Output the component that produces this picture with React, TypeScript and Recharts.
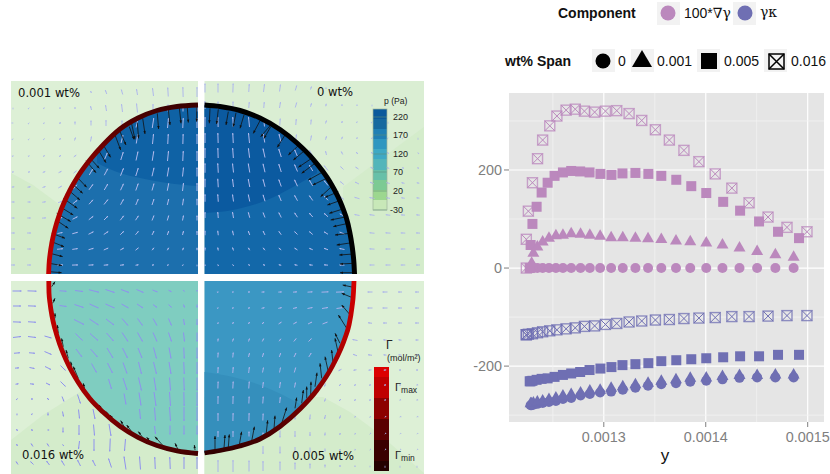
import { Area, CartesianGrid, ComposedChart, Line, ReferenceArea, ReferenceLine, Scatter, ScatterChart, XAxis, YAxis } from "recharts";

// ---- left block: drop flow fields, in diagram units ----

const panelTop = [81, 274];
const panelBottom = [281, 474];
const panelLeft = [11, 198];
const panelRight = [204.5, 424];

const tlRimX = [48.6, 49, 50, 52, 55, 60, 68, 78, 90, 103, 120, 138, 157, 177, 198];
const tlRimY = [274, 265, 254.7, 242, 228.8, 212.8, 194, 176.3, 159.8, 145, 129, 118, 110.5, 106.5, 105];
const trRimX = [204.5, 220, 240, 260, 280, 297, 313, 330, 342, 348, 351, 353, 354, 354.5];
const trRimY = [105, 106.5, 110.5, 118, 129.5, 143, 159, 182, 206, 224, 239, 253, 264, 274];
const blRimX = [48.8, 49, 50, 52, 55, 60, 68, 78, 90, 103, 120, 138, 157, 177, 198];
const blRimY = [281, 293, 303, 316, 329, 345, 364, 382, 398.8, 412, 426.3, 437.3, 445.5, 450.8, 453.5];
const brRimX = [204.5, 220, 240, 260, 280, 300, 317, 333, 345, 349, 352, 353.5, 354];
const brRimY = [453, 450.5, 446, 439, 426.5, 409, 390, 365, 338, 325, 307, 292, 281];

// inner pressure contours
const tlDarkX = [97, 117, 140, 167, 198];
const tlDarkTop = [152, 132, 117, 108, 105];
const tlDarkBottom = [163, 172, 178, 183, 186];
const trDarkX = [204.5, 233, 267, 293, 317];
const trDarkTop = [105, 109, 122, 139, 163];
const trDarkBottom = [213, 210, 200, 187, 173];
const brDarkX = [204.5, 233, 260, 283, 303];
const brDarkTop = [372, 377, 385, 395, 406];
const brDarkBottom = [453, 447, 439, 424, 406];

// outer pressure contours
const tlOuterX = [11, 33, 60];
const tlOuterY = [173, 185, 205];
const trOuterX = [343, 423.9];
const trOuterY = [187, 127];
const blOuterX = [11, 43, 80, 198];
const blOuterY = [440, 415, 392, 392];
const brOuterX = [204.5, 323, 350, 377, 400, 424];
const brOuterY = [397, 397, 412, 432, 452, 473];

// velocity grid, u/v by row
const tlColumns = [13, 29, 44, 60, 75, 91, 106, 122, 137, 153, 168, 183, 197];
const tlRows = [92, 108, 123, 139, 156, 172, 187, 202, 218, 233, 249, 265];
const tlU = [
  [0, 0, 0, 0, 0, -1, -1.5, -1.5, -1, -1, -0.5, -0.3, 0],
  [0, 0.5, 0.5, 0, 0, -1, -1, -1, -1, 0, 0, 0, 0],
  [0.5, 0.5, 0.5, 0.5, 0, 0, 0, 0, 2, 1.5, 1, 0.5, 0],
  [0.5, 0.5, 1, 1, 1, 1, 0, 2, 1.5, 1, 0.5, 0.3, 0],
  [1, 1, 1.5, 2, 2.5, 0, 3, 2.5, 2, 1.5, 1, 0.5, 0],
  [1.5, 2, 2.5, 3, 3, 3.5, 3.5, 3, 2.5, 2, 1.5, 1, 0],
  [2.5, 3, 3, 3.5, 4, 4, 3.5, 3, 2.5, 2, 1.5, 1, 0],
  [3, 3, 3.5, 4, 4.5, 4, 4, 3, 2.5, 2, 1.5, 1, 0],
  [3, 3.5, 4, 4.5, 5, 4.5, 4, 3.5, 3, 2, 1.5, 1, 0],
  [3.5, 4, 0, 5, 5.5, 5, 4.5, 3.5, 3, 2, 1.5, 1, 0],
  [4, 4, 0, 6, 5.5, 5, 4.5, 3.5, 3, 2, 1.5, 1, 0],
  [4, 4, 0, 6, 6, 5, 4.5, 4, 3, 2, 1.5, 1, 0],
];
const tlV = [
  [0, 0, 0, -0.5, -1, -2, -4, -5, -6, -8, -9, -10, -10],
  [-0.5, -0.5, -1, -1.5, -2, -4, -6, -8, -9, -8, -7, -7, -7],
  [0, -0.5, -1, -2, -3, -5, -6, -5, -9, -10, -10, -10, -10],
  [-0.3, -0.5, -1, -2, -3, -5, 0, -8, -9, -10, -10, -10, -10],
  [-0.3, -0.5, -1, -1.5, -2, 0, -7, -8, -9, -9.5, -10, -10, -10],
  [-0.3, -0.5, -1, -1.5, -2.5, -6, -6.5, -7.5, -8, -8.5, -9, -9, -9],
  [-0.3, -0.5, -1, -2, -4.5, -5.5, -6, -6.5, -7, -7, -7.5, -8, -8],
  [0, 0, -0.5, -1.5, -3.5, -4.5, -5, -5.5, -6, -6, -6, -6.5, -6.5],
  [0, 0, -0.3, -1, -2.5, -3.5, -4, -4.5, -4.5, -5, -5, -5, -5],
  [0, 0, 0, -1, -1.5, -2.5, -3, -3.5, -3.5, -4, -4, -4, -4],
  [0, 0, 0, -0.5, -0.8, -1.5, -2, -2, -2.5, -2.5, -2.5, -2.5, -2.5],
  [0, 0, 0, -0.2, -0.2, -0.3, -0.4, -0.5, -0.5, -0.5, -0.6, -0.6, -0.6],
];

const trColumns = [205, 218, 233, 249, 264, 280, 296, 311, 326, 342, 357, 372, 388, 403, 418];
const trRows = [88, 105, 122, 138, 153, 168, 183, 198, 215, 233, 249, 265];
const trU = [
  [0, 0, 0.3, 0.5, 1, 1, 1.5, 1, 0, 0, 0, 0, 0, 0, 0],
  [0, 0, 0, 0.5, 0.5, 1, 1.5, 1, 0.5, 0, 0, 0, 0, 0, 0],
  [0, -0.3, -0.5, -1, -1, 0.5, 0.5, 0.5, 1, 0.5, 0.5, 0.3, 0, 0, 0],
  [0, -0.3, -0.5, -1, -1.5, -2, 1, 1, 1, 1, 0.5, 0.5, 0.3, 0.3, 0],
  [0, -0.3, -0.7, -1.2, -2, -2.5, -3, -3.5, -1, -1.5, -2, -2, -1.5, -1, -0.7],
  [0, -0.5, -1, -1.5, -2, -2.5, -3, -3.5, -4, -3, -3, -3, -2.5, -2, -1.5],
  [0, -0.5, -1, -1.5, -2, -2.5, -3, -3.5, -4, -3.5, -4, -4, -3.5, -3, -2.5],
  [0, -0.5, -1, -1.5, -2, -2.5, -3, -3.5, -4, -4, -5, -5, -4, -3.5, -3],
  [0, -0.5, -1, -1.5, -2, -2.5, -3, -3.5, -4, -4.5, -5, -5, -4.5, -4, -3.5],
  [0, -0.5, -1, -1.5, -2, -2.5, -3, -3.5, -4, -5, 0, -5, -5, -4.5, -4],
  [0, -0.5, -1, -1.5, -2, -2.5, -3, -3.5, -4, -5, 0, -5, -5, -4.5, -4],
  [0, -0.5, -1, -1.5, -2, -2.5, -3, -3.5, -4, -5, 0, -5, -5, -4.5, -4],
];
const trV = [
  [-9, -9, -9, -8, -8, -7, -5, -3, -1, 0, 0, 0, 0, 0, 0],
  [-8, -7, -7, -6, -6, -6, -5, -3.5, -2.5, -1.5, -1, -0.5, 0, 0, 0],
  [-10, -10, -10, -10, -9, -7, -6, -5, -3, -2, -1, -0.5, -0.3, 0, 0],
  [-10, -10, -10, -10, -9, -8, -7, -5, -3.5, -2.5, -1.5, -1, -0.5, -0.3, -0.3],
  [-10, -10, -10, -9.5, -9, -8, -7, -6, -4, -3, -2, -1.5, -1, -0.7, -0.5],
  [-9.5, -9.5, -9, -9, -8.5, -8, -7, -6, -5, -3, -2, -1.5, -1, -0.7, -0.5],
  [-8.5, -8.5, -8, -8, -7.5, -7, -6.5, -6, -5, -3, -2, -1.5, -1, -0.7, -0.5],
  [-7.5, -7.5, -7, -7, -6.5, -6, -5.5, -5, -4.5, -3, -1.5, -1, -0.7, -0.5, -0.3],
  [-6, -6, -6, -5.5, -5, -5, -4.5, -4, -3.5, -2.5, -1, -0.7, -0.5, -0.3, -0.3],
  [-4.5, -4.5, -4.5, -4, -4, -3.5, -3, -3, -2.5, -2, 0, -0.5, -0.3, -0.2, -0.2],
  [-3, -3, -3, -2.5, -2.5, -2, -2, -1.5, -1.5, -1, 0, -0.3, 0, 0, 0],
  [-1, -1, -1, -0.8, -0.8, -0.6, -0.6, -0.4, -0.3, -0.2, 0, 0, 0, 0, 0],
];

const blColumns = [17, 32, 48, 63, 79, 94, 110, 125, 140, 155, 170, 184, 197];
const blRows = [291, 306, 322, 337, 353, 368, 384, 399, 414, 430, 445, 463];
const blU = [
  [9, 9, 0, 7, 8, 10, 9, 8, 7, 5, 3, 1, 0],
  [8, 8, 0, 7, 9, 9, 9, 7, 6, 4, 3, 1, 0],
  [8, 8, 0, 0, 10, 9, 8, 6, 5, 4, 3, 1, 0],
  [8, 8, 7, 0, 7, 8, 7, 6, 5, 4, 3, 1, 0],
  [6, 6, 7, 0, 6, 7, 6, 5, 4, 3, 2, 0.5, 0],
  [4, 5, 6, 5, 0, 5, 5, 4, 3, 3, 2, 0.5, 0],
  [3, 4, 4, 5, 0, 0, 3, 4, 3, 2, 1, 0.5, 0],
  [1, 2, 2, 2, 3, 0, 0, 2, 2, 2, 1, 0.3, 0],
  [0, 0.5, 0, 1, 1, 2, 0, 0, 1, 1, 1, 0, 0],
  [-1, -0.5, -1, 0, 0, 1, 2, 0, 0, 1, 0, 0, 0],
  [-1, -2, -2, -1, -1, 0, -0.5, -1, 0, 0, 0, 0, 0],
  [-2, -3, -3, -3, -3, -3, -3, -2, -1, -0.5, -0.5, 0, 0],
];
const blV = [
  [0, 0.3, 0, 0.5, 1, 2.5, 3, 3, 3, 2, 1.5, 1, 1],
  [0, 0.3, 0, 1, 3, 4, 4, 4, 4, 3, 3, 3, 3],
  [0.3, 0.5, 0, 0, 5, 6, 6, 7, 7, 7, 7, 6, 6],
  [-1, 1, 2, 0, 7, 7, 8, 9, 9, 9, 9, 9, 9],
  [-0.5, 0.5, 3, 0, 8, 8, 10, 10, 10, 11, 11, 11, 11],
  [-0.3, 1, 3, 5, 0, 9, 10, 11, 12, 12, 12, 12, 12],
  [-0.5, 0.5, 2, 5, 0, 0, 10, 12, 13, 13, 13, 13, 13],
  [-1, 0, 2, 5, 9, 0, 0, 11, 13, 14, 14, 14, 14],
  [-0.8, -1, 3, 5, 9, 10, 0, 0, 10, 13, 14, 14, 14],
  [-2, -2, 0, 5, 10, 11, 12, 0, 0, 8, 9, 9, 9],
  [-2, -3, -3, -1, 8, 12, 13, 12, 0, 0, 0, 0, 0],
  [-3, -3, -4, -5, -6, -6, -9, -13, -13, -12, -12, -12, -12],
];

const brColumns = [218, 233, 249, 263, 280, 295, 310, 325, 340, 355, 370, 385, 400, 417];
const brRows = [292, 308, 323, 340, 355, 370, 385, 400, 417, 434, 450, 466];
const brU = [
  [1, 1.5, 2, 3, 3.5, 4, 5, 7, 8, 0, -5, -5, -4, -4],
  [1, 1.5, 2, 3, 3.5, 4, 5, 6, 7, 0, -5, -5, -4, -4],
  [0.5, 1, 1.5, 2, 3, 3.5, 4, 5, 0, 0, -4, -4, -4, -4],
  [0.3, 1, 1, 1.5, 2, 2.5, 3, 0, 0, -5, -4, -3.5, -3, -3],
  [0.3, 0.5, 1, 1.2, 1.5, 2, 2.5, 0, 0, -4, -4, -3, -3, -2.5],
  [0.3, 0.5, 0.7, 1, 1, 1.5, 0, 0, -3, -3, -3, -2.5, -2, -2],
  [0.2, 0.4, 0.5, 0.7, 0.8, 1, 0, -1, -2, -2, -2, -2, -1.5, -1],
  [0.1, 0.2, 0.3, 0.5, 0.6, 0, -0.5, -1, -2, -2, -2, -1.5, -1, -1],
  [0, 0.2, 0.2, 0.3, 0, 0, -0.5, -1, -1, -0.5, -1, -0.5, -0.5, -0.5],
  [0, 0, 0, 0, 0, 0, 0, -0.3, -0.5, -0.5, -0.5, -0.3, -0.3, -0.3],
  [0, 0, 0, 0, 0, 0, 0, 0, -0.3, -0.3, -0.3, -0.2, -0.2, -0.2],
  [0, 0, 0, 0, 0, 0, 0, 0, 0, 0, 0, 0, 0, 0],
];
const brV = [
  [-0.2, -0.2, -0.2, -0.2, -0.2, -0.3, -0.3, -0.3, -0.3, 0, 0, 0, 0, 0],
  [-0.4, -0.5, -0.6, -0.7, -0.8, -0.9, -1, -1, -1, 0, 0, 0, 0, 0],
  [-1.5, -2, -2, -2, -2, -2, -2, -2, 0, 0, -0.5, 0, 0, 0],
  [-3, -3, -3, -3, -2.5, -3, -3, 0, 0, -1, -0.5, -0.3, -0.3, 0],
  [-5, -5, -4, -4, -4, -4, -4, 0, 0, -1.5, -0.5, -0.3, -0.3, 0],
  [-6, -6, -6, -5, -5, -5, 0, 0, 1.5, 0.5, 0.3, 0.3, 0.2, 0],
  [-7, -7, -7, -6, -6, -5, 0, 3, 2, 1, 0.5, 0.3, 0.3, 0.2],
  [-8, -8, -7, -7, -6, 0, 4, 3, 2, 1, 0.3, 0.3, 0.3, 0.2],
  [-8, -8, -8, -7, 0, 5, 5, 4, 3, 1, 0.5, 0.3, 0.2, 0.2],
  [-6, -6, -5, -3, 7, 6, 4, 3, 2, 1, 0.5, 0.3, 0.2, 0.2],
  [0, 0, 0, 8, 7, 6, 5, 3, 2, 1, 0.5, 0.3, 0.2, 0.2],
  [-12, -12, -11, -10, -9, -7, -5, -3, -2, -1, -0.5, -0.3, -0.3, -0.3],
];

// surface normals along each rim: tail x, tail y, u, v
const tlNormals = [
  [196.7, 105, 0, 16.7], [187.3, 107.3, 1, 15.3], [179.3, 107.3, 1.7, 16], [168.3, 109.3, 1.7, 15.7],
  [157.3, 113.3, 1.3, 15.7], [142.7, 118.3, 2.3, 15.7], [137.3, 122.7, 1.3, 15.7], [131.7, 124, 3.3, 15.3],
  [129.3, 126.7, 4.7, 12.7], [120, 131.7, 6, 13.3], [115, 135, 5.7, 15], [103.3, 145, 7.3, 12.3],
  [98.3, 150, 7.7, 12.7], [89.3, 157.3, 10, 11], [86, 160.7, 10, 12], [76, 176, 10.7, 11.3],
  [71.7, 183.3, 11, 10], [68.3, 190, 11.7, 10], [63.3, 198.3, 14, 10], [60, 206.7, 13.3, 8.3],
  [56.7, 213.3, 14, 8.3], [56, 220, 12.3, 8.3], [51.7, 233.3, 13.3, 5], [51.7, 241.7, 12.3, 5],
  [50, 253.3, 12.7, 3.3], [49.3, 263.3, 12.7, 2.3], [49.3, 271.7, 12.3, 1],
];
const trNormals = [
  [210, 108.3, -0.7, 15], [218.3, 109.3, -1.7, 14.7], [228.3, 111.7, -2.3, 13.3], [236, 112.7, -2.7, 14],
  [244, 115, -4, 13.3], [260, 120.7, -6.7, 12.7], [270.7, 125, -10, 11.7], [270.7, 126.7, -6.7, 11.7],
  [285, 135, -7.7, 12.3], [299, 145, -10.7, 10], [303.3, 151.7, -10, 8.3], [311.7, 158.3, -13.3, 9],
  [315, 163.3, -13.3, 10], [323.3, 171.7, -15, 8.3], [326.7, 178.3, -14, 6.7], [333.3, 185, -12.7, 11.7],
  [338.3, 191.7, -13.3, 5.7], [341.7, 200, -14.3, 5], [345, 208.3, -15.7, 5], [346.7, 216.7, -16, 3.3],
  [348.3, 223.3, -15, 3.3], [350, 233.3, -15, 1.7], [351.7, 242.7, -15, 2.3], [353.3, 254, -14, 1],
  [354, 263.3, -14, 0.7], [354, 272.7, -14, 0],
];
const blNormals = [
  [195, 450, -0.7, -5], [178.3, 450, -3.3, -6.7], [163.3, 446, -8.3, -9.3], [151.7, 443.3, -5, -6],
  [143.3, 438.3, -5, -6.7], [131.7, 431.7, -5, -6.7], [125, 428.3, -4.3, -7.7], [115, 421.7, -5, -6.7],
  [110, 418.3, -4, -6.7], [103.3, 413.3, -4, -8.3], [96.7, 407.7, -5, -7.7], [92.7, 401.7, -2.7, -5],
  [86, 395, -2.7, -11.7], [78.3, 378.3, -5, -11.7], [71.7, 366.7, -1, -5], [68.3, 358.3, -2.3, -8.3],
  [63.3, 346.7, -1.7, -8.3], [58.3, 333.3, -1, -8.3], [55, 318.3, 0, -5], [52.7, 303.3, 2.3, -5],
  [51.7, 286.7, 3.3, -5],
];
const brNormals = [
  [215, 449, 0, -13], [224, 448.3, 1, -13.3], [228.3, 447.7, 1, -13.3], [239.3, 445, 2.3, -13.3],
  [251.7, 441, 2.7, -14.3], [266, 435, 1.7, -14.7], [274, 429, 1, -13.3], [281.7, 423.3, 5, -15.7],
  [295, 408.3, 1.7, -10.7], [301.7, 403.3, 1.7, -13.3], [306.7, 398.3, 0, -11.7], [310.7, 395, 0.3, -13.3],
  [315, 386.7, 2, -14], [321.7, 378.3, -1.7, -15], [328.3, 371.7, -3.3, -15], [333.3, 365, -1.7, -15],
  [338.3, 353.3, -3.3, -15], [340, 343.3, -5, -10], [346.7, 328.3, -8.3, -13.3], [351.7, 316.7, -10, -11.7],
  [354, 298.3, -12.3, -5], [355, 287.7, -12.3, -2.7],
];

// colour bars
const pressureEdges = [109, 119, 129, 139, 149, 159, 170, 180, 190, 200, 210];
const pressureColors = ["#0a5a9c", "#16699f", "#2080b4", "#2f97c0", "#3fa9c4", "#52b5ba", "#66c0a8", "#7cca94", "#9cd78f", "#c8e8b8"];
const pressureLabels = ["220", "170", "120", "70", "20", "-30"];
const pressureLabelY = [117, 135, 154, 172, 191, 210];
const gammaEdges = [367, 377, 398, 419, 440, 461, 471];
const gammaColors = ["#dc0000", "#bf0000", "#8c0000", "#5a0000", "#3a0000", "#240000"];

// ---- right block: force components along the interface ----

const xsCrossed = [0.001224, 0.001224, 0.001226, 0.00123, 0.001235, 0.00124, 0.001247, 0.001254, 0.001263, 0.001272, 0.001281, 0.001291, 0.0013016, 0.0013127, 0.0013248, 0.0013372, 0.0013506, 0.0013643, 0.0013786, 0.0013933, 0.0014093, 0.0014256, 0.0014425, 0.0014611, 0.0014797, 0.0014993];
const gradCrossed = [0, 58.6, 116, 174, 223, 261, 290, 310, 322, 324, 320, 318, 320, 321, 315, 301, 282, 261, 240, 217, 192, 163, 133, 104, 83, 74];
const curvCrossed = [-136, -136, -135, -134, -132, -130, -128, -126, -124, -122, -119, -118, -115, -113, -110, -108, -106, -105, -103, -102, -101, -99, -99, -98, -97, -97];

const xsSquare = [0.0012273, 0.0012282, 0.001230, 0.0012341, 0.001239, 0.0012449, 0.0012517, 0.0012599, 0.001268, 0.0012768, 0.001286, 0.0012967, 0.0013075, 0.0013183, 0.001331, 0.0013437, 0.0013564, 0.0013711, 0.0013858, 0.0014005, 0.0014171, 0.0014337, 0.0014523, 0.0014709, 0.0014915];
const gradSquare = [0, 47, 90, 125, 154, 174, 188, 195, 198, 197, 195, 192, 190, 193, 194, 192, 188, 180, 167, 153, 135, 117, 95, 74, 61];
const curvSquare = [-231, -231, -230, -228, -226, -225, -222, -218, -215, -212, -208, -205, -202, -198, -196, -194, -190, -188, -186, -184, -182, -180, -180, -177, -177];

const xsPlain = [0.0012282, 0.0012292, 0.0012309, 0.0012348, 0.00124, 0.0012462, 0.001253, 0.0012599, 0.001268, 0.0012772, 0.0012863, 0.0012964, 0.0013072, 0.0013186, 0.001331, 0.0013434, 0.0013564, 0.0013708, 0.0013848, 0.0014005, 0.0014164, 0.0014331, 0.0014504, 0.0014683, 0.0014862];
const gradTriangle = [0, 11, 31, 44, 54, 62, 67, 68, 71, 70, 68, 66, 63, 63, 62, 61, 59, 56, 54.5, 52, 48, 42, 35, 28, 23];
const curvTriangle = [-276, -276, -274, -272, -270, -267, -264, -260, -257, -254, -250, -248, -244, -241, -237, -234, -230, -227, -224, -223, -220, -218, -218, -217, -217];
const gradCircle = [0, 0, 0, 0, 0, 0, 0, 0, 0, 0, 0, 0, 0, 0, 0, 0, 0, 0, 0, 0, 0, 0, 0, 0, 0];
const curvCircle = [-280, -280, -279, -277, -275, -273, -271, -267, -265, -260, -257, -254, -252, -248, -244, -240, -237, -235, -232, -230, -227, -224, -223, -223, -223];

const yMajor = [-200, 0, 200];
const yMinor = [-300, -100, 100, 300];
const xMajor = [0.0013, 0.0014, 0.0015];
const xMinor = [0.00125, 0.00135, 0.00145];

const PURPLE = "#bb88bd";
const BLUE = "#6f6fb3";
const SANS = "'Liberation Sans', Arial, sans-serif";
const DEJAVU = "'DejaVu Sans', sans-serif";
const LIGHT_BG = "#ddf0d6";
const DARK_BG = "#d4eccb";

const pairs = (xs: number[], ys: number[]) => xs.map((x, i) => ({ x, y: ys[i] }));
const bands = (xs: number[], lo: number[], hi: number[]) => xs.map((x, i) => ({ x, band: [lo[i], hi[i]] }));
const constant = (xs: number[], v: number) => xs.map(() => v);
const field = (cols: number[], rows: number[], u: number[][], v: number[][]) =>
  rows.flatMap((y, j) => cols.map((x, i) => ({ x, y, u: u[j][i], v: v[j][i] }))).filter((d) => d.u !== 0 || d.v !== 0);
const normals = (list: number[][]) => list.map(([x, y, u, v]) => ({ x, y, u, v }));

function FlowArrow(props: any) {
  const { cx, cy, payload } = props;
  const { u, v } = payload;
  const len = Math.hypot(u, v);
  const ux = u / len;
  const uy = v / len;
  const x0 = cx - u / 2;
  const y0 = cy - v / 2;
  const x1 = cx + u / 2;
  const y1 = cy + v / 2;
  return (
    <g>
      <line x1={x0} y1={y0} x2={x1} y2={y1} stroke={props.fill} strokeWidth={1} />
      <polygon points={`${x1},${y1} ${x1 - ux * 1.6 - uy * 0.7},${y1 - uy * 1.6 + ux * 0.7} ${x1 - ux * 1.6 + uy * 0.7},${y1 - uy * 1.6 - ux * 0.7}`} fill={props.fill} />
    </g>
  );
}

function NormalArrow(props: any) {
  const { cx, cy, payload } = props;
  const { u, v } = payload;
  const len = Math.hypot(u, v);
  const ux = u / len;
  const uy = v / len;
  const x1 = cx + u;
  const y1 = cy + v;
  return (
    <g>
      <line x1={cx} y1={cy} x2={x1} y2={y1} stroke="#111" strokeWidth={0.8} />
      <polygon points={`${x1},${y1} ${x1 - ux * 3 - uy * 1.2},${y1 - uy * 3 + ux * 1.2} ${x1 - ux * 3 + uy * 1.2},${y1 - uy * 3 - ux * 1.2}`} fill="#111" />
    </g>
  );
}

function rimGradient(id: string, y1: number, y2: number, stops: string[]) {
  return (
    <linearGradient id={id} gradientUnits="userSpaceOnUse" x1={0} x2={0} y1={y1} y2={y2}>
      {stops.map((c, i) => (
        <stop key={c + i} offset={i / (stops.length - 1)} stopColor={c} />
      ))}
    </linearGradient>
  );
}

const areaProps = { stroke: "none", fillOpacity: 1, dot: false, activeDot: false, isAnimationActive: false };
const rimProps = { dataKey: "y", type: "monotoneX" as const, dot: false, activeDot: false, isAnimationActive: false };

function DropPanels() {
  return (
    <ComposedChart width={430} height={474} margin={{ top: 0, right: 0, bottom: 0, left: 0 }} style={{ position: "absolute", left: 0, top: 0 }}>
      <XAxis dataKey="x" type="number" domain={[0, 430]} hide />
      <YAxis dataKey="y" type="number" domain={[0, 474]} reversed hide />
      <defs>
        {rimGradient("rimTL", 105, 274, ["#3a0000", "#800000", "#b00000", "#c40000"])}
        {rimGradient("rimBL", 281, 454, ["#c40000", "#b80000", "#a00000", "#420000"])}
        {rimGradient("rimBR", 281, 454, ["#d40000", "#b80000", "#800000", "#300000"])}
      </defs>

      <Area {...areaProps} data={bands(panelLeft, constant(panelLeft, panelTop[0]), constant(panelLeft, panelTop[1]))} dataKey="band" fill={LIGHT_BG} />
      <Area {...areaProps} data={bands(panelRight, constant(panelRight, panelTop[0]), constant(panelRight, panelTop[1]))} dataKey="band" fill="#daeed3" />
      <Area {...areaProps} data={bands(panelLeft, constant(panelLeft, panelBottom[0]), constant(panelLeft, panelBottom[1]))} dataKey="band" fill={LIGHT_BG} />
      <Area {...areaProps} data={bands(panelRight, constant(panelRight, panelBottom[0]), constant(panelRight, panelBottom[1]))} dataKey="band" fill={LIGHT_BG} />

      <Area {...areaProps} data={bands(tlOuterX, tlOuterY, constant(tlOuterX, panelTop[1]))} dataKey="band" fill={DARK_BG} />
      <Area {...areaProps} data={bands(trOuterX, trOuterY, constant(trOuterX, panelTop[1]))} dataKey="band" fill={DARK_BG} />
      <Area {...areaProps} data={bands(blOuterX, blOuterY, constant(blOuterX, panelBottom[1]))} dataKey="band" fill={DARK_BG} />
      <Area {...areaProps} data={bands(brOuterX, brOuterY, constant(brOuterX, panelBottom[1]))} dataKey="band" fill={DARK_BG} />

      <Area {...areaProps} type="monotoneX" data={bands(tlRimX, tlRimY, constant(tlRimX, panelTop[1]))} dataKey="band" fill="#1c6fad" />
      <Area {...areaProps} type="monotoneX" data={bands(trRimX, trRimY, constant(trRimX, panelTop[1]))} dataKey="band" fill="#1368a9" />
      <Area {...areaProps} type="monotoneX" data={bands(blRimX, constant(blRimX, panelBottom[0]), blRimY)} dataKey="band" fill="#7fcdc0" />
      <Area {...areaProps} type="monotoneX" data={bands(brRimX, constant(brRimX, panelBottom[0]), brRimY)} dataKey="band" fill="#3b97c3" />

      <Area {...areaProps} type="monotoneX" data={bands(tlDarkX, tlDarkTop, tlDarkBottom)} dataKey="band" fill="#0f62a5" />
      <Area {...areaProps} type="monotoneX" data={bands(trDarkX, trDarkTop, trDarkBottom)} dataKey="band" fill="#0b5aa0" />
      <Area {...areaProps} type="monotoneX" data={bands(brDarkX, brDarkTop, brDarkBottom)} dataKey="band" fill="#358fbc" />

      <Scatter data={field(tlColumns, tlRows, tlU, tlV)} fill="#b0b9ec" shape={FlowArrow} isAnimationActive={false} />
      <Scatter data={field(trColumns, trRows, trU, trV)} fill="#b0b9ec" shape={FlowArrow} isAnimationActive={false} />
      <Scatter data={field(blColumns, blRows, blU, blV)} fill="#8f92ee" shape={FlowArrow} isAnimationActive={false} />
      <Scatter data={field(brColumns, brRows, brU, brV)} fill="#aab2ea" shape={FlowArrow} isAnimationActive={false} />

      <Scatter data={normals(tlNormals)} shape={NormalArrow} isAnimationActive={false} />
      <Scatter data={normals(trNormals)} shape={NormalArrow} isAnimationActive={false} />
      <Scatter data={normals(blNormals)} shape={NormalArrow} isAnimationActive={false} />
      <Scatter data={normals(brNormals)} shape={NormalArrow} isAnimationActive={false} />

      <Line {...rimProps} data={pairs(tlRimX, tlRimY)} stroke="url(#rimTL)" strokeWidth={4.8} zIndex={700} />
      <Line {...rimProps} data={pairs(trRimX, trRimY)} stroke="#000" strokeWidth={5} zIndex={700} />
      <Line {...rimProps} data={pairs(blRimX, blRimY)} stroke="url(#rimBL)" strokeWidth={4.8} zIndex={700} />
      <Line {...rimProps} data={pairs(brRimX, brRimY)} stroke="url(#rimBR)" strokeWidth={4.8} zIndex={700} />

      {pressureColors.map((c, i) => (
        <ReferenceArea key={c} x1={373} x2={387} y1={pressureEdges[i]} y2={pressureEdges[i + 1]} fill={c} fillOpacity={1} stroke="none" />
      ))}
      {gammaColors.map((c, i) => (
        <ReferenceArea key={c} x1={374} x2={389} y1={gammaEdges[i]} y2={gammaEdges[i + 1]} fill={c} fillOpacity={1} stroke="none" />
      ))}
    </ComposedChart>
  );
}

// annotation text sits above the chart's layers
function PanelLabels() {
  return (
    <svg width={430} height={474} style={{ position: "absolute", left: 0, top: 0, pointerEvents: "none" }}>
      <g fontFamily={DEJAVU} fontSize={11.6} fill="#111">
        <text x={18} y={97}>0.001 wt%</text>
        <text x={317} y={96}>0 wt%</text>
        <text x={22} y={459}>0.016 wt%</text>
        <text x={292} y={460}>0.005 wt%</text>
      </g>
      <g fontFamily={SANS} fill="#222">
        <text x={384} y={104} fontSize={8.6}>p (Pa)</text>
        {pressureLabels.map((t, i) => (
          <g key={t}>
            <line x1={373} x2={387} y1={pressureLabelY[i]} y2={pressureLabelY[i]} stroke="#5d8f7a" strokeWidth={0.6} />
            <text x={t === "-30" ? 390 : 393} y={pressureLabelY[i] + 3} fontSize={9}>{t}</text>
          </g>
        ))}
        <rect x={373} y={109} width={14} height={101} fill="none" stroke="#9fb59a" strokeWidth={0.7} />
        <text x={386} y={349} fontSize={12}>Γ</text>
        <text x={387} y={361} fontSize={9}>(mol/m²)</text>
        <text x={395} y={391} fontSize={11}>Γ<tspan fontSize={8.5} dy={2}>max</tspan></text>
        <text x={395} y={459} fontSize={11}>Γ<tspan fontSize={8.5} dy={2}>min</tspan></text>
      </g>
    </svg>
  );
}

function Dot(props: any) {
  return <circle cx={props.cx} cy={props.cy} r={5} fill={props.fill} />;
}
function Tri(props: any) {
  const { cx, cy, fill } = props;
  return <polygon points={`${cx},${cy - 6.5} ${cx + 6},${cy + 4} ${cx - 6},${cy + 4}`} fill={fill} />;
}
function Sq(props: any) {
  return <rect x={props.cx - 5} y={props.cy - 5} width={10} height={10} fill={props.fill} />;
}
function CrossSq(props: any) {
  const { cx, cy, fill } = props;
  return (
    <g stroke={fill} fill="none" strokeWidth={1}>
      <rect x={cx - 5} y={cy - 5} width={10} height={10} strokeWidth={1.4} strokeOpacity={0.75} />
      <path d={`M${cx - 5},${cy - 5}L${cx + 5},${cy + 5}M${cx - 5},${cy + 5}L${cx + 5},${cy - 5}`} />
    </g>
  );
}

function LegendKey(props: { x: number; y: number }) {
  return <rect x={props.x} y={props.y} width={23} height={23} fill="#f2f2f2" />;
}

function ForceChart() {
  const offset = 430;
  return (
    <ScatterChart width={400} height={474} margin={{ top: 93, right: 6, bottom: 22, left: 78 }} style={{ position: "absolute", left: offset, top: 0, fontFamily: SANS }}>
      <CartesianGrid fill="#e5e5e5" stroke="#fff" strokeWidth={1.2} horizontalValues={yMajor} verticalValues={xMajor} />
      {yMinor.map((v) => (
        <ReferenceLine key={v} y={v} stroke="#f2f2f2" strokeWidth={0.8} />
      ))}
      {xMinor.map((v) => (
        <ReferenceLine key={v} x={v} stroke="#f2f2f2" strokeWidth={0.8} />
      ))}
      <XAxis
        dataKey="x"
        type="number"
        domain={[0.001207, 0.001516]}
        allowDataOverflow
        ticks={xMajor}
        tickFormatter={(v: number) => v.toFixed(4)}
        tick={{ fill: "#7f7f7f", fontSize: 14.4 }}
        tickSize={5}
        tickMargin={5}
        tickLine={{ stroke: "#7f7f7f" }}
        axisLine={false}
        height={30}
      />
      <YAxis
        dataKey="y"
        type="number"
        domain={[-314, 357]}
        allowDataOverflow
        ticks={yMajor}
        tick={{ fill: "#7f7f7f", fontSize: 14.4 }}
        tickSize={5}
        tickLine={{ stroke: "#7f7f7f" }}
        axisLine={false}
        width={1}
      />
      <Scatter data={pairs(xsPlain, gradCircle)} fill={PURPLE} shape={Dot} isAnimationActive={false} />
      <Scatter data={pairs(xsCrossed, gradCrossed)} fill={PURPLE} shape={CrossSq} isAnimationActive={false} />
      <Scatter data={pairs(xsSquare, gradSquare)} fill={PURPLE} shape={Sq} isAnimationActive={false} />
      <Scatter data={pairs(xsPlain, gradTriangle)} fill={PURPLE} shape={Tri} isAnimationActive={false} />
      <Scatter data={pairs(xsCrossed, curvCrossed)} fill={BLUE} shape={CrossSq} isAnimationActive={false} />
      <Scatter data={pairs(xsSquare, curvSquare)} fill={BLUE} shape={Sq} isAnimationActive={false} />
      <Scatter data={pairs(xsPlain, curvCircle)} fill={BLUE} shape={Dot} isAnimationActive={false} />
      <Scatter data={pairs(xsPlain, curvTriangle)} fill={BLUE} shape={Tri} isAnimationActive={false} />

      <text x={665 - offset} y={461} fontSize={17} textAnchor="middle" fill="#111">y</text>

      <text x={558 - offset} y={18} fontSize={14} fontWeight="bold" fill="#111">Component</text>
      <LegendKey x={657 - offset} y={2} />
      <circle cx={668 - offset} cy={13} r={7.5} fill={PURPLE} />
      <text x={684 - offset} y={18} fontSize={14} fill="#111">
        100*<tspan fontFamily="'DejaVu Serif', serif" fontSize={14}>∇γ</tspan>
      </text>
      <LegendKey x={733 - offset} y={2} />
      <circle cx={745 - offset} cy={13} r={7.5} fill={BLUE} />
      <text x={760 - offset} y={17} fontSize={14} fontFamily="'DejaVu Serif', serif" fill="#111">γκ</text>

      <text x={505 - offset} y={66} fontSize={14} fontWeight="bold" fill="#111">wt% Span</text>
      <LegendKey x={592 - offset} y={49} />
      <circle cx={603 - offset} cy={61} r={7.5} fill="#000" />
      <text x={618 - offset} y={66} fontSize={14} fill="#111">0</text>
      <LegendKey x={631 - offset} y={49} />
      <polygon points={`${642 - offset},50 ${652 - offset},67 ${632 - offset},67`} fill="#000" />
      <text x={657 - offset} y={66} fontSize={14} fill="#111">0.001</text>
      <LegendKey x={697 - offset} y={49} />
      <rect x={701 - offset} y={53} width={16} height={16} fill="#000" />
      <text x={724 - offset} y={66} fontSize={14} fill="#111">0.005</text>
      <LegendKey x={764 - offset} y={49} />
      <g stroke="#000" fill="none" strokeWidth={1.5}>
        <rect x={769 - offset} y={54} width={15} height={15} />
        <path d={`M${769 - offset},54L${784 - offset},69M${769 - offset},69L${784 - offset},54`} />
      </g>
      <text x={791 - offset} y={66} fontSize={14} fill="#111">0.016</text>
    </ScatterChart>
  );
}

export default function App() {
  return (
    <div style={{ position: "absolute", left: 0, top: 0, width: 830, height: 474, background: "#fff", overflow: "hidden" }}>
      <DropPanels />
      <PanelLabels />
      <ForceChart />
    </div>
  );
}
